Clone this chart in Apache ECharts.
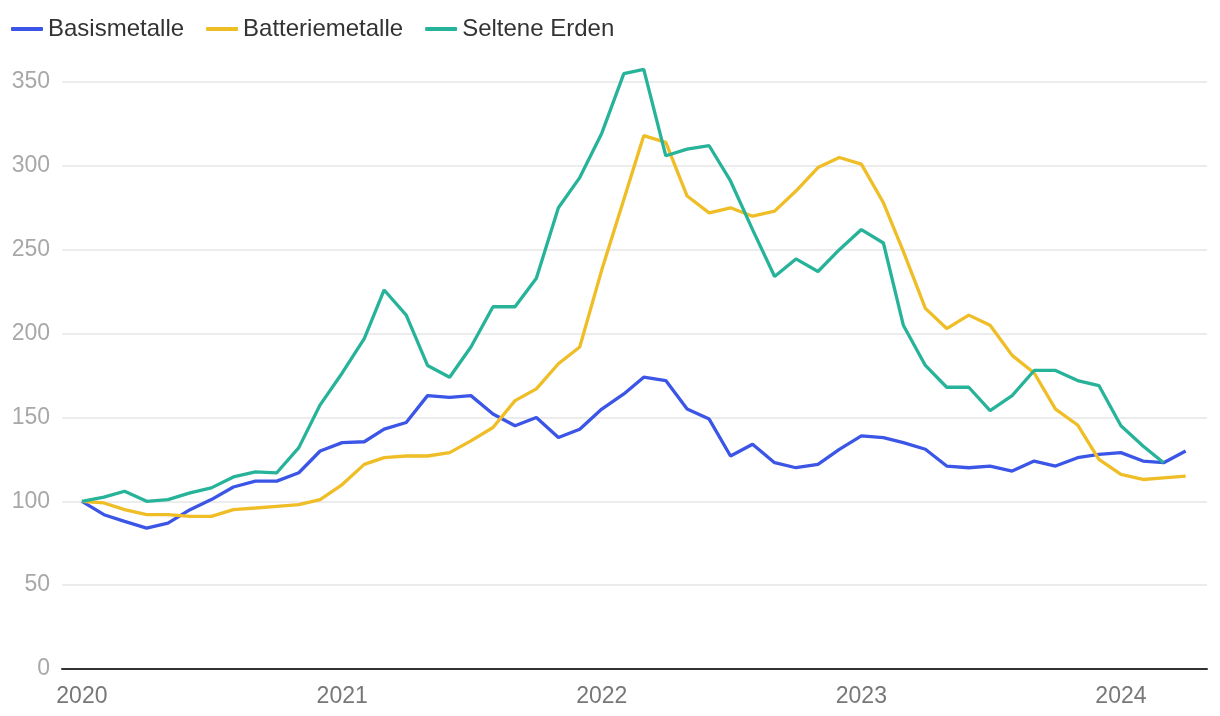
<!DOCTYPE html>
<html>
<head>
<meta charset="utf-8">
<script src="https://cdn.jsdelivr.net/npm/echarts@6/dist/echarts.min.js"></script>
<style>
html,body{margin:0;padding:0;background:#fff;}
#chart{width:1220px;height:716px;}
</style>
</head>
<body>
<div id="chart"></div>
<script>
const months = [
 '2020-01-01','2020-02-01','2020-03-01','2020-04-01','2020-05-01','2020-06-01','2020-07-01','2020-08-01','2020-09-01','2020-10-01','2020-11-01','2020-12-01',
 '2021-01-01','2021-02-01','2021-03-01','2021-04-01','2021-05-01','2021-06-01','2021-07-01','2021-08-01','2021-09-01','2021-10-01','2021-11-01','2021-12-01',
 '2022-01-01','2022-02-01','2022-03-01','2022-04-01','2022-05-01','2022-06-01','2022-07-01','2022-08-01','2022-09-01','2022-10-01','2022-11-01','2022-12-01',
 '2023-01-01','2023-02-01','2023-03-01','2023-04-01','2023-05-01','2023-06-01','2023-07-01','2023-08-01','2023-09-01','2023-10-01','2023-11-01','2023-12-01',
 '2024-01-01','2024-02-01','2024-03-01','2024-04-01'
];
const basismetalle = [100,92,88,84,87,95,101,108.5,112,112,117,130,
 135,135.5,143,147,163,162,163,152,145,150,138,143,
 155,164,174,172,155,149,127,134,123,120,122,131,
 139,138,135,131,121,120,121,118,124,121,126,128,
 129,124,123,130];
const batteriemetalle = [100,99,95,92,92,91,91,95,96,97,98,101,
 110,122,126,127,127,129,136,144,160,167,182,192,
 238,280,318,314,282,272,275,270,273,285,299,305,
 301,278,249,215,203,211,205,187,176.5,155,145.5,125,
 116,113,114,115];
const selteneErden = [100,102.5,106,100,101,105,108,114.5,117.5,117,132,157.5,
 176.5,197,226,211,181,174,192,216,216,233,275,293,
 319.5,355,357.5,306,310,312,291,262,234,244.5,237,250,
 262,254,205,181,168,168,154,163,178,178,172,169,
 145,133,123];
const seriesNames = ['Basismetalle','Batteriemetalle','Seltene Erden'];
const seriesData = [basismetalle, batteriemetalle, selteneErden];
const colors = ['#3b55e6','#efbd25','#27b399'];
const yTicks = [0,50,100,150,200,250,300,350];

const chart = echarts.init(document.getElementById('chart'), null, {renderer:'canvas'});
const font = 'Liberation Sans, Arial, Helvetica, sans-serif';
chart.setOption({
  animation:false,
  color: colors,
  textStyle:{fontFamily:font},
  legend:{
    left:6, top:12, itemWidth:32, itemHeight:4, itemGap:22,
    icon:'roundRect',
    textStyle:{fontSize:24, color:'#333', fontFamily:font},
    data: seriesNames
  },
  grid:{left:62, right:13, top:82, bottom:47, containLabel:false},
  xAxis:{
    type:'time',
    min:'2019-12-04', max:'2024-05-01',
    axisLine:{lineStyle:{color:'#333', width:2}},
    axisTick:{show:false},
    splitLine:{show:false},
    axisLabel:{
      fontSize:23, color:'#777', margin:16, fontFamily:font, hideOverlap:false,
      formatter:function(v){ const d=new Date(v); return (d.getMonth()===0 && d.getDate()===1) ? String(d.getFullYear()) : ''; }
    }
  },
  yAxis:{
    type:'value', min:yTicks[0], max:yTicks[yTicks.length-1], interval:50,
    axisLine:{show:false}, axisTick:{show:false},
    splitLine:{lineStyle:{color:'#e6e6e6', width:1.5}},
    axisLabel:{fontSize:23, color:'#a8a8a8', margin:12, fontFamily:font}
  },
  series: seriesNames.map((n,k)=>({
    name:n, type:'line', showSymbol:false, symbol:'none', clip:false,
    lineStyle:{width:3.3, color:colors[k]}, itemStyle:{color:colors[k]},
    data: seriesData[k].map((v,i)=>[months[i], v])
  }))
});
</script>
</body>
</html>
